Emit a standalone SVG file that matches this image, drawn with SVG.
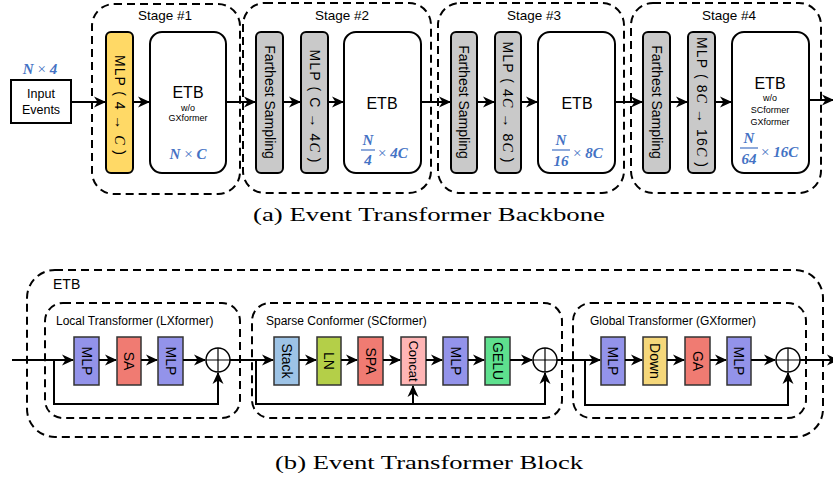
<svg xmlns="http://www.w3.org/2000/svg" width="833" height="483" viewBox="0 0 833 483">
<defs>
<marker id="ah" markerUnits="userSpaceOnUse" markerWidth="12" markerHeight="12" refX="11" refY="6" orient="auto" viewBox="0 0 12 12">
<path d="M0,0.5 L12,6 L0,11.5 L3.5,6 Z" fill="#000"/>
</marker>
</defs>
<style>
.dash{fill:none;stroke:#000;stroke-width:2;stroke-dasharray:8,5}
.box{stroke:#000;stroke-width:2}
.blk{stroke:#333;stroke-width:1.5}
.ln{fill:none;stroke:#000;stroke-width:2}
.arr{fill:none;stroke:#000;stroke-width:2;marker-end:url(#ah)}
.t{font-family:"Liberation Sans",Arial,sans-serif;fill:#000}
.m{font-family:"Liberation Serif","DejaVu Serif",serif;font-weight:bold;font-style:italic;fill:#4472c4}
.x{font-family:"Liberation Serif","DejaVu Serif",serif;fill:#4472c4}
.i{font-family:"Liberation Serif",serif;font-style:italic}
.cap{font-family:"Liberation Serif","DejaVu Serif",serif;fill:#000;font-size:19px}
</style>

<!-- Top: backbone -->
<g id="input">
<rect x="11" y="80" width="60" height="43" fill="#fff" class="box"/>
<text class="t" x="41" y="98" font-size="12.5" text-anchor="middle">Input</text>
<text class="t" x="41" y="114" font-size="12.5" text-anchor="middle">Events</text>
<text x="40" y="74" text-anchor="middle" font-size="15"><tspan class="m">N</tspan><tspan class="x"> × </tspan><tspan class="m">4</tspan></text>
</g>

<g id="stage1">
<rect x="92" y="4" width="148" height="190" rx="22" class="dash"/>
<text class="t" x="165" y="20" font-size="13.5" text-anchor="middle">Stage #1</text>
<g id="s1-mlp">
<rect x="106" y="32" width="27" height="141" rx="5" fill="#ffd966" class="box"/>
<text class="t" font-size="14" text-anchor="middle" textLength="100" lengthAdjust="spacing" transform="translate(114.5,105) rotate(90)">MLP ( 4 → <tspan class="i">C</tspan> )</text>
</g>
<g id="s1-etb">
<rect x="150" y="32" width="76" height="141" rx="12" fill="#fff" class="box"/>
<text class="t" x="188" y="98" font-size="16" text-anchor="middle">ETB</text>
<text class="t" x="188" y="111" font-size="9" text-anchor="middle">w/o</text>
<text class="t" x="188" y="121" font-size="9" text-anchor="middle">GXformer</text>
<text x="188" y="159" text-anchor="middle" font-size="15"><tspan class="m">N</tspan><tspan class="x"> × </tspan><tspan class="m">C</tspan></text>
</g>
</g>

<g id="stage2">
<rect x="243" y="3" width="188" height="190" rx="22" class="dash"/>
<text class="t" x="342" y="20" font-size="13.5" text-anchor="middle">Stage #2</text>
<g id="s2-fs">
<rect x="256" y="32" width="27" height="141" rx="5" fill="#c9c9c9" class="box"/>
<text class="t" font-size="14" text-anchor="middle" transform="translate(264.5,102) rotate(90)">Farthest Sampling</text>
</g>
<g id="s2-mlp">
<rect x="301" y="32" width="27" height="141" rx="5" fill="#c9c9c9" class="box"/>
<text class="t" font-size="14" text-anchor="middle" textLength="113" lengthAdjust="spacing" transform="translate(309.5,106) rotate(90)">MLP ( C → 4<tspan class="i">C</tspan> )</text>
</g>
<g id="s2-etb">
<rect x="344" y="32" width="77" height="141" rx="12" fill="#fff" class="box"/>
<text class="t" x="382" y="109" font-size="16" text-anchor="middle">ETB</text>
<text class="m" x="368" y="145" font-size="15" text-anchor="middle">N</text>
<line x1="361" y1="150" x2="375" y2="150" stroke="#4472c4" stroke-width="1.2"/>
<text class="m" x="368" y="165" font-size="15" text-anchor="middle">4</text>
<text x="378" y="158" font-size="15"><tspan class="x">× </tspan><tspan class="m">4C</tspan></text>
</g>
</g>

<g id="stage3">
<rect x="438" y="3" width="186" height="190" rx="22" class="dash"/>
<text class="t" x="534" y="20" font-size="13.5" text-anchor="middle">Stage #3</text>
<g id="s3-fs">
<rect x="451" y="32" width="26" height="141" rx="5" fill="#c9c9c9" class="box"/>
<text class="t" font-size="14" text-anchor="middle" transform="translate(459,102) rotate(90)">Farthest Sampling</text>
</g>
<g id="s3-mlp">
<rect x="495" y="32" width="26" height="141" rx="5" fill="#c9c9c9" class="box"/>
<text class="t" font-size="14" text-anchor="middle" textLength="121" lengthAdjust="spacing" transform="translate(503,102) rotate(90)">MLP ( 4<tspan class="i">C</tspan> → 8<tspan class="i">C</tspan> )</text>
</g>
<g id="s3-etb">
<rect x="538" y="32" width="77" height="141" rx="12" fill="#fff" class="box"/>
<text class="t" x="577" y="109" font-size="16" text-anchor="middle">ETB</text>
<text class="m" x="561" y="145" font-size="15" text-anchor="middle">N</text>
<line x1="552" y1="150" x2="570" y2="150" stroke="#4472c4" stroke-width="1.2"/>
<text class="m" x="561" y="166" font-size="15" text-anchor="middle">16</text>
<text x="573" y="158" font-size="15"><tspan class="x">× </tspan><tspan class="m">8C</tspan></text>
</g>
</g>

<g id="stage4">
<rect x="631" y="3" width="190" height="190" rx="22" class="dash"/>
<text class="t" x="729" y="20" font-size="13.5" text-anchor="middle">Stage #4</text>
<g id="s4-fs">
<rect x="643" y="32" width="27" height="141" rx="5" fill="#c9c9c9" class="box"/>
<text class="t" font-size="14" text-anchor="middle" transform="translate(651.5,102) rotate(90)">Farthest Sampling</text>
</g>
<g id="s4-mlp">
<rect x="688" y="32" width="27" height="141" rx="5" fill="#c9c9c9" class="box"/>
<text class="t" font-size="14" text-anchor="middle" textLength="130" lengthAdjust="spacing" transform="translate(696.5,102) rotate(90)">MLP ( 8<tspan class="i">C</tspan> → 16<tspan class="i">C</tspan> )</text>
</g>
<g id="s4-etb">
<rect x="732" y="32" width="77" height="141" rx="12" fill="#fff" class="box"/>
<text class="t" x="770" y="89" font-size="16" text-anchor="middle">ETB</text>
<text class="t" x="770" y="101" font-size="9" text-anchor="middle">w/o</text>
<text class="t" x="770" y="113" font-size="9" text-anchor="middle">SCformer</text>
<text class="t" x="770" y="125" font-size="9" text-anchor="middle">GXformer</text>
<text class="m" x="749" y="143" font-size="15" text-anchor="middle">N</text>
<line x1="740" y1="148" x2="758" y2="148" stroke="#4472c4" stroke-width="1.2"/>
<text class="m" x="749" y="164" font-size="15" text-anchor="middle">64</text>
<text x="761" y="157" font-size="15"><tspan class="x">× </tspan><tspan class="m">16C</tspan></text>
</g>
</g>

<text class="cap" x="429" y="221" text-anchor="middle" textLength="352" lengthAdjust="spacingAndGlyphs">(a) Event Transformer Backbone</text>

<!-- Bottom: ETB block -->
<g id="etb-outer">
<rect x="27" y="270" width="796" height="167" rx="28" class="dash"/>
<text class="t" x="53" y="289" font-size="14">ETB</text>
</g>

<g id="lx">
<rect x="45" y="303" width="195" height="115" rx="18" class="dash"/>
<text class="t" x="56" y="325" font-size="12">Local Transformer (LXformer)</text>
<g id="lx-mlp1"><rect x="74" y="337" width="25" height="48" fill="#9393ea" class="blk"/>
<text class="t" font-size="14" text-anchor="middle" transform="translate(81.5,361) rotate(90)">MLP</text></g>
<g id="lx-sa"><rect x="117" y="337" width="24" height="48" fill="#f07b72" class="blk"/>
<text class="t" font-size="14" text-anchor="middle" transform="translate(124,361) rotate(90)">SA</text></g>
<g id="lx-mlp2"><rect x="158" y="337" width="25" height="48" fill="#9393ea" class="blk"/>
<text class="t" font-size="14" text-anchor="middle" transform="translate(165.5,361) rotate(90)">MLP</text></g>
<g id="lx-add"><circle cx="218" cy="360" r="12" fill="#fff" stroke="#000" stroke-width="1.5"/>
<path d="M206,360 H230 M218,348 V372" stroke="#000" stroke-width="1.2"/></g>
</g>

<g id="sc">
<rect x="252" y="303" width="310" height="115" rx="18" class="dash"/>
<text class="t" x="266" y="325" font-size="12">Sparse Conformer (SCformer)</text>
<g id="sc-stack"><rect x="274" y="337" width="25" height="48" fill="#9dc3e6" class="blk"/>
<text class="t" font-size="14" text-anchor="middle" transform="translate(281.5,361) rotate(90)">Stack</text></g>
<g id="sc-ln"><rect x="317" y="337" width="24" height="48" fill="#b4cf48" class="blk"/>
<text class="t" font-size="14" text-anchor="middle" transform="translate(324,361) rotate(90)">LN</text></g>
<g id="sc-spa"><rect x="358" y="337" width="25" height="48" fill="#f07b72" class="blk"/>
<text class="t" font-size="14" text-anchor="middle" transform="translate(365.5,361) rotate(90)">SPA</text></g>
<g id="sc-concat"><rect x="401" y="337" width="25" height="48" fill="#ffb5b5" class="blk"/>
<text class="t" font-size="13" text-anchor="middle" transform="translate(408.5,361) rotate(90)">Concat</text></g>
<g id="sc-mlp"><rect x="443" y="337" width="25" height="48" fill="#9393ea" class="blk"/>
<text class="t" font-size="14" text-anchor="middle" transform="translate(450.5,361) rotate(90)">MLP</text></g>
<g id="sc-gelu"><rect x="485" y="337" width="25" height="48" fill="#5ee08e" class="blk"/>
<text class="t" font-size="14" text-anchor="middle" transform="translate(492.5,361) rotate(90)">GELU</text></g>
<g id="sc-add"><circle cx="545" cy="360" r="12" fill="#fff" stroke="#000" stroke-width="1.5"/>
<path d="M533,360 H557 M545,348 V372" stroke="#000" stroke-width="1.2"/></g>
</g>

<g id="gx">
<rect x="573" y="303" width="233" height="115" rx="18" class="dash"/>
<text class="t" x="590" y="325" font-size="12">Global Transformer (GXformer)</text>
<g id="gx-mlp1"><rect x="601" y="337" width="24" height="48" fill="#9393ea" class="blk"/>
<text class="t" font-size="14" text-anchor="middle" transform="translate(608,361) rotate(90)">MLP</text></g>
<g id="gx-down"><rect x="643" y="337" width="24" height="48" fill="#f5d77a" class="blk"/>
<text class="t" font-size="14" text-anchor="middle" transform="translate(650,361) rotate(90)">Down</text></g>
<g id="gx-ga"><rect x="685" y="337" width="25" height="48" fill="#f07b72" class="blk"/>
<text class="t" font-size="14" text-anchor="middle" transform="translate(692.5,361) rotate(90)">GA</text></g>
<g id="gx-mlp2"><rect x="727" y="337" width="24" height="48" fill="#9393ea" class="blk"/>
<text class="t" font-size="14" text-anchor="middle" transform="translate(734,361) rotate(90)">MLP</text></g>
<g id="gx-add"><circle cx="788" cy="360" r="12" fill="#fff" stroke="#000" stroke-width="1.5"/>
<path d="M776,360 H800 M788,348 V372" stroke="#000" stroke-width="1.2"/></g>
</g>

<text class="cap" x="429" y="469" text-anchor="middle" textLength="308" lengthAdjust="spacingAndGlyphs">(b) Event Transformer Block</text>

<g id="connectors">
<!-- top -->
<line x1="71" y1="102" x2="105" y2="102" class="arr"/>
<line x1="133" y1="102" x2="149" y2="102" class="arr"/>
<line x1="226" y1="102" x2="255" y2="102" class="arr"/>
<line x1="283" y1="102" x2="300" y2="102" class="arr"/>
<line x1="328" y1="102" x2="343" y2="102" class="arr"/>
<line x1="421" y1="102" x2="450" y2="102" class="arr"/>
<line x1="477" y1="102" x2="494" y2="102" class="arr"/>
<line x1="521" y1="102" x2="537" y2="102" class="arr"/>
<line x1="615" y1="102" x2="642" y2="102" class="arr"/>
<line x1="670" y1="102" x2="687" y2="102" class="arr"/>
<line x1="715" y1="102" x2="731" y2="102" class="arr"/>
<line x1="809" y1="100" x2="833" y2="100" class="arr"/>
<!-- bottom LX -->
<line x1="12" y1="360" x2="73" y2="360" class="arr"/>
<line x1="99" y1="360" x2="116" y2="360" class="arr"/>
<line x1="141" y1="360" x2="157" y2="360" class="arr"/>
<line x1="183" y1="360" x2="205" y2="360" class="arr"/>
<polyline points="54,360 54,404 218,404 218,373" class="arr"/>
<!-- SC -->
<line x1="230" y1="360" x2="273" y2="360" class="arr"/>
<line x1="299" y1="360" x2="316" y2="360" class="arr"/>
<line x1="341" y1="360" x2="357" y2="360" class="arr"/>
<line x1="383" y1="360" x2="400" y2="360" class="arr"/>
<line x1="426" y1="360" x2="442" y2="360" class="arr"/>
<line x1="468" y1="360" x2="484" y2="360" class="arr"/>
<line x1="510" y1="360" x2="532" y2="360" class="arr"/>
<polyline points="256,360 256,404 545,404 545,373" class="arr"/>
<line x1="413" y1="404" x2="413" y2="386" class="arr"/>
<!-- GX -->
<line x1="557" y1="360" x2="600" y2="360" class="arr"/>
<line x1="625" y1="360" x2="642" y2="360" class="arr"/>
<line x1="667" y1="360" x2="684" y2="360" class="arr"/>
<line x1="710" y1="360" x2="726" y2="360" class="arr"/>
<line x1="751" y1="360" x2="775" y2="360" class="arr"/>
<polyline points="585,360 585,405 788,405 788,373" class="arr"/>
<line x1="800" y1="360" x2="838" y2="360" class="arr"/>
</g>
</svg>
